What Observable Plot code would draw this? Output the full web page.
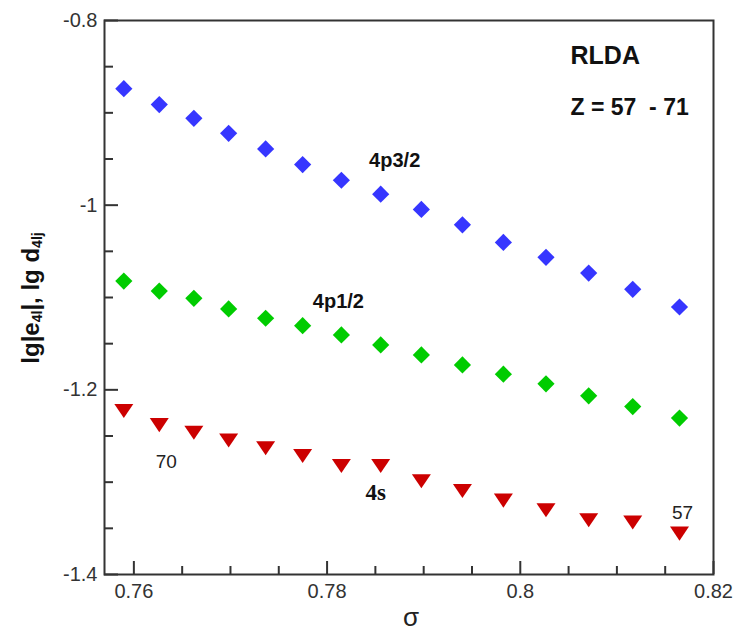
<!DOCTYPE html>
<html>
<head>
<meta charset="utf-8">
<script src="https://cdn.jsdelivr.net/npm/d3@7"></script>
<script src="https://cdn.jsdelivr.net/npm/@observablehq/plot@0.6"></script>
<style>
  html, body { margin: 0; padding: 0; background: #fff; }
  #chart { width: 733px; height: 633px; }
</style>
</head>
<body>
<div id="chart"></div>
<script>
// Screening parameter sigma for Z = 71 ... 57
const sigma = [0.75896, 0.76263, 0.76621, 0.76981, 0.77364, 0.77747, 0.78148, 0.78555,
               0.78976, 0.79401, 0.79825, 0.80266, 0.80708, 0.81164, 0.81648];
const Z = [71, 70, 69, 68, 67, 66, 65, 64, 63, 62, 61, 60, 59, 58, 57];
// lg values
const lg4p32 = [-0.8738, -0.8911, -0.9059, -0.9222, -0.9391, -0.9560, -0.9730, -0.9881,
                -1.0046, -1.0213, -1.0403, -1.0565, -1.0735, -1.0911, -1.1103];
const lg4p12 = [-1.0822, -1.0930, -1.1009, -1.1124, -1.1225, -1.1305, -1.1405, -1.1514,
                -1.1622, -1.1730, -1.1830, -1.1935, -1.2065, -1.2181, -1.2306];
const lg4s   = [-1.2230, -1.2382, -1.2465, -1.2549, -1.2632, -1.2717, -1.2824, -1.2824,
                -1.2991, -1.3095, -1.3200, -1.3305, -1.3413, -1.3436, -1.3557];

const xMajor = [0.76, 0.78, 0.8, 0.82];
const xMinor = [0.765, 0.77, 0.775, 0.785, 0.79, 0.795, 0.805, 0.81, 0.815];
const yMajor = [-1.4, -1.2, -1, -0.8];
const yMinor = [-1.35, -1.3, -1.25, -1.15, -1.1, -1.05, -0.95, -0.9, -0.85];

const seriesNames = ["4p3/2", "4p1/2", "4s"];
const seriesColors = ["#3636ff", "#00cc00", "#cc0000"];

const rows = [];
[lg4p32, lg4p12, lg4s].forEach((vals, s) => {
  vals.forEach((v, i) => rows.push({sigma: sigma[i], lg: v, Z: Z[i], series: seriesNames[s]}));
});
const byS = name => rows.filter(r => r.series === name);

const diamond = {
  draw(ctx, size) {
    const r = Math.sqrt(size / Math.PI);
    ctx.moveTo(0, -r); ctx.lineTo(r, 0); ctx.lineTo(0, r); ctx.lineTo(-r, 0); ctx.closePath();
  }
};
const triDown = {
  draw(ctx, size) {
    const r = Math.sqrt(size / Math.PI);
    const h = r * 0.74;
    ctx.moveTo(-r, -h); ctx.lineTo(r, -h); ctx.lineTo(0, h); ctx.closePath();
  }
};

const W = 733, H = 633;
const mL = 104, mR = 20, mT = 20, mB = 59;
const fw = W - mL - mR, fh = H - mT - mB;
const axisColor = "#333";
const font = "Liberation Sans, Arial, sans-serif";

const plot = Plot.plot({
  width: W, height: H,
  marginLeft: mL, marginRight: mR, marginTop: mT, marginBottom: mB,
  style: {fontFamily: font, background: "#fff", overflow: "visible"},
  x: {domain: [0.75696, 0.82]},
  y: {domain: [-1.4, -0.8]},
  marks: [
    // inward ticks
    Plot.tickX(xMajor, {x: d => d, insetTop: fh - 13, stroke: axisColor, strokeWidth: 2}),
    Plot.tickX(xMinor, {x: d => d, insetTop: fh - 8, stroke: axisColor, strokeWidth: 2}),
    Plot.tickY(yMajor, {y: d => d, insetRight: fw - 14, stroke: axisColor, strokeWidth: 2}),
    Plot.tickY(yMinor, {y: d => d, insetRight: fw - 9, stroke: axisColor, strokeWidth: 2}),
    Plot.frame({stroke: axisColor, strokeWidth: 2}),
    Plot.axisX({ticks: xMajor, tickSize: 0, tickPadding: 9, tickFormat: d => String(d),
                fontSize: 20, fill: axisColor, label: null}),
    Plot.axisY({ticks: yMajor, tickSize: 0, tickPadding: 7, tickFormat: d => String(d),
                fontSize: 20, fill: axisColor, label: null}),
    Plot.dot(byS("4p3/2"), {x: "sigma", y: "lg", symbol: diamond, r: 8.6, fill: seriesColors[0], stroke: "none"}),
    Plot.dot(byS("4p1/2"), {x: "sigma", y: "lg", symbol: diamond, r: 8.6, fill: seriesColors[1], stroke: "none"}),
    Plot.dot(byS("4s"), {x: "sigma", y: "lg", symbol: triDown, r: 9.5, fill: seriesColors[2], stroke: "none"}),
    // series labels anchored to data points
    Plot.text([byS("4p3/2")[7]], {x: "sigma", y: "lg", text: () => "4p3/2", dx: 14, dy: -34,
               fontSize: 20, fontWeight: "bold", fill: "#111"}),
    Plot.text([byS("4p1/2")[6]], {x: "sigma", y: "lg", text: () => "4p1/2", dx: -3, dy: -33,
               fontSize: 20, fontWeight: "bold", fill: "#111"}),
    Plot.text([byS("4s")[7]], {x: "sigma", y: "lg", text: () => "4s", dx: -5, dy: 27,
               fontSize: 23, fontWeight: "bold", fontFamily: "Liberation Serif", fill: "#111"}),
    Plot.text([byS("4s")[1]], {x: "sigma", y: "lg", text: d => String(d.Z), dx: 7, dy: 37,
               fontSize: 19, fill: "#222"}),
    Plot.text([byS("4s")[14]], {x: "sigma", y: "lg", text: d => String(d.Z), dx: 3, dy: -21,
               fontSize: 19, fill: "#222"}),
    Plot.text(["RLDA"], {frameAnchor: "top-right", textAnchor: "start", dx: -143, dy: 26,
               fontSize: 25, fontWeight: "bold", fill: "#111", letterSpacing: "1px"}),
    Plot.text(["Z = 57  - 71"], {frameAnchor: "top-right", textAnchor: "start", dx: -143, dy: 78,
               fontSize: 23, fontWeight: "bold", fill: "#111"}),
    Plot.text(["σ"], {frameAnchor: "bottom", dx: 2, dy: 51, fontSize: 26, fill: "#222"})
  ]
});

document.getElementById("chart").appendChild(plot);

// y-axis label with subscripts
const svg = d3.select(plot);
const yl = svg.append("text")
  .attr("transform", `translate(33,${mT + fh / 2 + 1}) rotate(-90)`)
  .attr("text-anchor", "middle")
  .attr("dominant-baseline", "middle")
  .attr("font-family", font)
  .attr("font-size", 24)
  .attr("font-weight", "bold")
  .attr("fill", "#111");
yl.append("tspan").text("lg|e");
yl.append("tspan").attr("font-size", 14).attr("dy", 5).text("4l");
yl.append("tspan").attr("dy", -5).text("|, lg d");
yl.append("tspan").attr("font-size", 14).attr("dy", 5).text("4lj");
</script>
</body>
</html>
